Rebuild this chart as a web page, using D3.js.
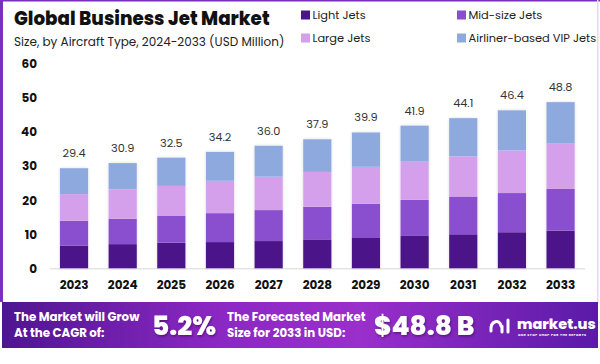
<!DOCTYPE html>
<html><head><meta charset="utf-8">
<script src="https://cdn.jsdelivr.net/npm/d3@7"></script>
<style>
html,body{margin:0;padding:0;background:#fff;}
svg{display:block;font-family:Poppins,Inter,"Noto Sans",sans-serif;}
</style></head>
<body>
<svg id="c" width="600" height="364"></svg>
<script>
const years = ["2023","2024","2025","2026","2027","2028","2029","2030","2031","2032","2033"];
const totals = [29.4,30.9,32.5,34.2,36.0,37.9,39.9,41.9,44.1,46.4,48.8];
const seriesNames = ["Light Jets","Mid-size Jets","Large Jets","Airliner-based VIP Jets"];
const lightJets = [6.7,7.1,7.5,7.7,8.0,8.5,8.9,9.5,10.0,10.6,11.1];
const midSizeJets = [7.3,7.5,8.0,8.5,9.1,9.6,10.1,10.6,11.1,11.5,12.2];
const largeJets = [7.8,8.6,8.7,9.5,9.8,10.2,10.8,11.2,11.8,12.5,13.3];
const vipJets = [7.6,7.7,8.3,8.5,9.1,9.6,10.1,10.6,11.2,11.8,12.2];
const yTicks = [0,10,20,30,40,50,60];
const colors = ["#4b1589","#8a4fcf","#d4a0ec","#8ea9de"];

const svg = d3.select("#c");
const defs = svg.append("defs");

// frame
svg.append("rect").attr("x",0).attr("y",0).attr("width",600).attr("height",302).attr("fill","#fff");
svg.append("rect").attr("x",0).attr("y",0).attr("width",3).attr("height",302).attr("fill","#7b2fbe");
svg.append("rect").attr("x",0).attr("y",0).attr("width",600).attr("height",1.5).attr("fill","#7b2fbe");
svg.append("rect").attr("x",597).attr("y",0).attr("width",1.5).attr("height",302).attr("fill","#ead8f3");

// title
svg.append("text").attr("x",14).attr("y",25).attr("font-size",18.3).attr("font-weight",800).attr("fill","#111").text("Global Business Jet Market");
svg.append("text").attr("x",14).attr("y",46).attr("font-size",12).attr("fill","#222").text("Size, by Aircraft Type, 2024-2033 (USD Million)");

// legend
const legPos = [[301,15],[457,15],[301,38],[457,38]];
seriesNames.forEach((n,i)=>{
  const g = svg.append("g").attr("transform",`translate(${legPos[i][0]},${legPos[i][1]})`);
  g.append("rect").attr("x",0).attr("y",-4.5).attr("width",9).attr("height",9).attr("fill",colors[i]);
  g.append("text").attr("x",11.5).attr("y",4.3).attr("font-size",11.4).attr("fill","#222").text(n);
});

// scales
const x = d3.scaleBand().domain(years).range([49.7,584.9]).paddingInner(0.42).paddingOuter(0.21);
const y = d3.scaleLinear().domain([0,60]).range([268.3,64]);

// y axis labels
const yAx = svg.append("g").attr("transform","translate(37,0)")
  .call(d3.axisLeft(y).tickValues(yTicks).tickSize(0).tickPadding(0));
yAx.select(".domain").remove();
yAx.selectAll("text").attr("font-size",12).attr("font-weight",700).attr("fill","#111").attr("font-family","Poppins,Inter,'Noto Sans',sans-serif");

// baseline
svg.append("line").attr("x1",50).attr("x2",585).attr("y1",y(0)+0.5).attr("y2",y(0)+0.5).attr("stroke","#d8d8d8").attr("stroke-width",1);

// stacked data
const rows = years.map((yr,i)=>({year:yr,"Light Jets":lightJets[i],"Mid-size Jets":midSizeJets[i],"Large Jets":largeJets[i],"Airliner-based VIP Jets":vipJets[i]}));
const stack = d3.stack().keys(seriesNames)(rows);

// shadow
const f = defs.append("filter").attr("id","sh").attr("x","-30%").attr("y","-10%").attr("width","160%").attr("height","130%");
f.append("feDropShadow").attr("dx",0).attr("dy",0).attr("stdDeviation",1.5).attr("flood-color","#000").attr("flood-opacity",0.15);
svg.append("g").selectAll("rect").data(years).join("rect")
  .attr("x",d=>x(d)).attr("width",x.bandwidth())
  .attr("y",(d,i)=>y(totals[i])).attr("height",(d,i)=>y(0)-y(totals[i]))
  .attr("rx",2).attr("fill","#fff").attr("filter","url(#sh)");

stack.forEach((s,si)=>{
  svg.append("g").selectAll("rect").data(s).join("rect")
    .attr("x",d=>x(d.data.year)).attr("width",x.bandwidth())
    .attr("y",d=>y(d[1])).attr("height",d=>y(d[0])-y(d[1]))
    .attr("fill",colors[si]);
});

// value labels
svg.append("g").selectAll("text").data(years).join("text")
  .attr("x",d=>x(d)+x.bandwidth()/2).attr("y",(d,i)=>y(totals[i])-11)
  .attr("text-anchor","middle").attr("font-size",11.3).attr("fill","#333")
  .text((d,i)=>totals[i].toFixed(1));

// x axis labels
const xAx = svg.append("g").attr("transform",`translate(0,${y(0)})`)
  .call(d3.axisBottom(x).tickSize(0).tickPadding(12));
xAx.select(".domain").remove();
xAx.selectAll("text").attr("font-size",12).attr("font-weight",700).attr("fill","#111").attr("font-family","Poppins,Inter,'Noto Sans',sans-serif");

// banner
const lg = defs.append("linearGradient").attr("id","bg").attr("x1","0").attr("x2","1").attr("y1","0").attr("y2","0");
lg.append("stop").attr("offset","0").attr("stop-color","#4e1590");
lg.append("stop").attr("offset","0.35").attr("stop-color","#8a27c2");
lg.append("stop").attr("offset","0.6").attr("stop-color","#9a2fcb");
lg.append("stop").attr("offset","1").attr("stop-color","#5a1aa8");
svg.append("rect").attr("x",2).attr("y",302).attr("width",596).attr("height",46).attr("fill","url(#bg)");

const ts = defs.append("filter").attr("id","ts").attr("x","-10%").attr("y","-20%").attr("width","120%").attr("height","150%");
ts.append("feDropShadow").attr("dx",1).attr("dy",1.5).attr("stdDeviation",1).attr("flood-color","#2a0050").attr("flood-opacity",0.5);

const bt = svg.append("g").attr("fill","#fff").attr("font-weight",700);
bt.append("text").attr("x",14).attr("y",321).attr("font-size",11.8).text("The Market will Grow");
bt.append("text").attr("x",14).attr("y",337).attr("font-size",11.8).text("At the CAGR of:");
bt.append("text").attr("x",152).attr("y",335).attr("font-size",26.4).attr("font-weight",800).attr("filter","url(#ts)").text("5.2%");
bt.append("text").attr("x",227).attr("y",321).attr("font-size",11.8).text("The Forecasted Market");
bt.append("text").attr("x",227).attr("y",337).attr("font-size",11.8).text("Size for 2033 in USD:");
bt.append("text").attr("x",374).attr("y",335).attr("font-size",26.3).attr("font-weight",800).attr("filter","url(#ts)").text("$48.8 B");

// logo
const lgG = svg.append("g").attr("fill","none").attr("stroke","#fff").attr("stroke-linecap","round");
lgG.append("path").attr("d","M491,331 C490,320 500,319 501,326").attr("stroke-width",3);
lgG.append("line").attr("x1",502).attr("x2",502).attr("y1",326).attr("y2",332).attr("stroke-width",3);
lgG.append("line").attr("x1",508).attr("x2",508).attr("y1",320).attr("y2",332).attr("stroke-width",3);
bt.append("text").attr("x",517).attr("y",329).attr("font-size",14.5).attr("font-weight",800).text("market.us");
bt.append("text").attr("x",518).attr("y",335.5).attr("font-size",3.3).attr("letter-spacing",0.45).text("ONE STOP SHOP FOR THE REPORTS");
</script>
</body></html>
